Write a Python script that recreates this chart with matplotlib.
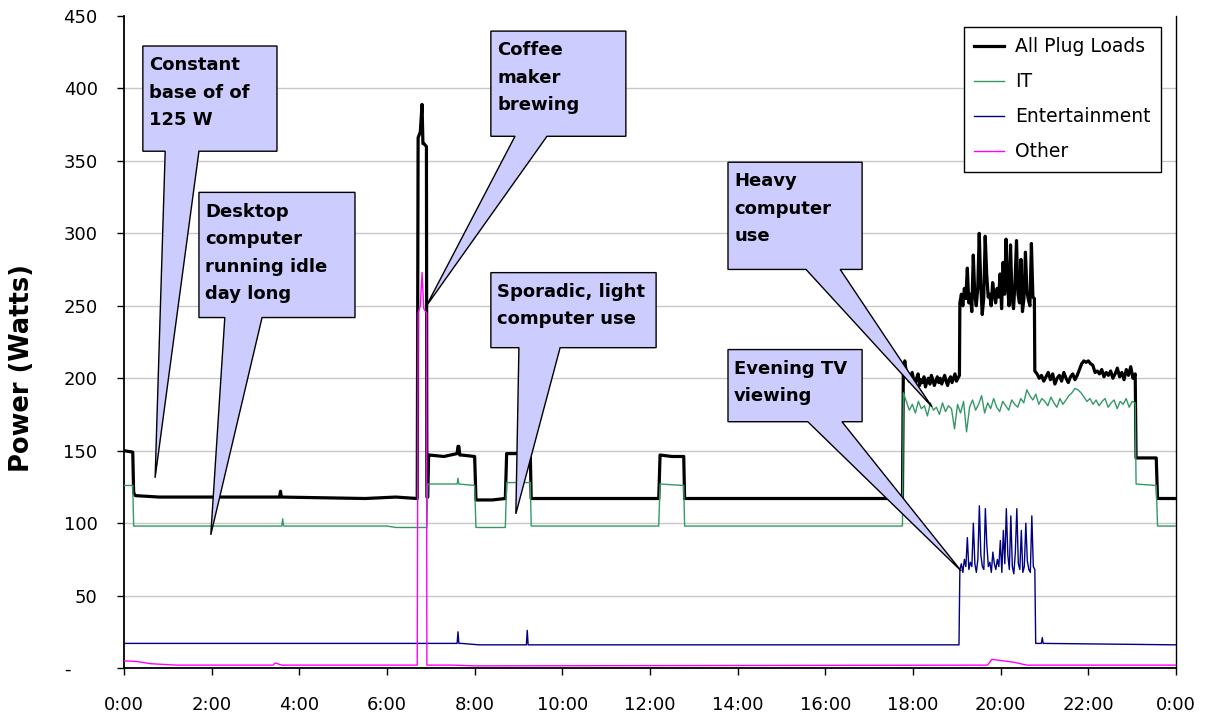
import numpy as np
import matplotlib
matplotlib.use("Agg")
import matplotlib.pyplot as plt
from matplotlib.patches import Polygon
from matplotlib.transforms import ScaledTranslation

plt.rcParams['font.family'] = ['DejaVu Sans']

# ---- daily plug load data (hours since midnight, watts) ----
# All plug loads, 0:00 - 17:45
all_hours = [
    0.00, 0.20, 0.22, 0.26, 0.80, 1.60, 2.40, 3.10, 3.55, 3.57,
    3.59, 5.50, 6.20, 6.69, 6.71, 6.76, 6.80, 6.82, 6.84, 6.90,
    6.91, 6.93, 6.95, 6.97, 7.30, 7.60, 7.62, 7.64, 7.66, 7.70,
    8.00, 8.03, 8.40, 8.70, 8.73, 9.00, 9.27, 9.29, 10.5, 12.20,
    12.23, 12.50, 12.77, 12.79, 14.00, 15.50, 17.00, 17.76,
]
all_watts = [
    150, 149, 121, 119, 118, 118, 118, 118, 118, 122,
    118, 117, 118, 117, 366, 370, 389, 362, 362, 360,
    118, 118, 147, 147, 146, 148, 153, 153, 147, 147,
    146, 116, 116, 117, 148, 148, 147, 117, 117, 117,
    147, 146, 146, 117, 117, 117, 117, 117,
]
# evening: computer on (17:47 - 19:04), computer + TV (19:04 - 20:47), computer (20:47 - 23:04)
all_eve_a = [205, 212, 204, 203, 198, 201, 204, 199, 196, 200, 203, 195, 199,
             197, 201, 194, 198, 200, 196, 202, 199, 195, 198, 201, 197, 200,
             196, 199, 202, 198, 195, 199, 201, 197, 200, 203, 198, 200, 202]
all_eve_b = [252, 258, 250, 262, 255, 276, 252, 258, 246, 285, 258, 250, 262,
             300, 265, 244, 255, 298, 272, 256, 258, 250, 266, 258, 252, 262,
             256, 272, 248, 280, 258, 296, 264, 250, 292, 256, 248, 266, 295,
             258, 252, 282, 246, 255, 287, 260, 254, 250, 293, 256, 255]
all_eve_c = [205, 203, 200, 202, 198, 201, 204, 199, 203, 196, 200, 202, 198,
             204, 200, 197, 201, 203, 199, 202, 206, 210, 212, 211, 212, 210,
             209, 204, 205, 203, 206, 201, 204, 202, 205, 200, 203, 207, 201,
             204, 199, 206, 202, 208, 200, 203]
all_tail_hours = [23.09, 23.55, 23.58, 24.00]
all_tail_watts = [145, 145, 117, 117]

# IT
it_hours = [0.00, 0.20, 0.22, 3.60, 3.62, 3.64, 6.00, 6.20, 6.91, 6.93,
            7.30, 7.60, 7.62, 7.64, 8.00, 8.03, 8.70, 8.73, 9.27, 9.29,
            12.20, 12.23, 12.77, 12.79, 17.76]
it_watts = [126, 126, 98, 98, 103, 98, 98, 97, 97, 127,
            127, 127, 131, 127, 126, 97, 97, 128, 128, 98,
            98, 127, 126, 98, 98]
it_eve = [190, 184, 178, 182, 176, 184, 179, 181, 174, 183, 178, 180, 175,
          183, 177, 181, 179, 165, 182, 176, 184, 163, 180, 185, 178, 182,
          188, 176, 183, 179, 186, 180, 177, 184, 181, 178, 185, 182, 180,
          186, 183, 192, 188, 185, 189, 182, 186, 184, 181, 187, 183, 180,
          186, 182, 185, 188, 190, 193, 192, 190, 187, 184, 186, 182, 185,
          181, 184, 186, 180, 183, 185, 179, 184, 182, 186, 180, 184, 183]
it_tail_hours = [23.09, 23.55, 23.58, 24.00]
it_tail_watts = [127, 126, 98, 98]

# Entertainment
ent_hours = [0.00, 4.00, 7.60, 7.62, 7.64, 7.70, 8.10, 9.18, 9.20, 9.22, 19.05]
ent_watts = [17, 17, 17, 25, 17, 17, 16, 16, 26, 16, 16]
ent_eve = [68, 72, 66, 75, 70, 90, 68, 73, 70, 100, 72, 66, 75, 112, 78, 70,
           68, 110, 85, 70, 73, 66, 80, 72, 68, 75, 70, 88, 66, 95, 72, 110,
           78, 68, 105, 70, 65, 80, 110, 72, 68, 95, 66, 70, 100, 74, 68, 66,
           105, 70, 68]
ent_tail_hours = [20.80, 20.93, 20.95, 20.97, 24.00]
ent_tail_watts = [17, 17, 21, 17, 16]

# Other
oth_hours = [0.00, 0.30, 0.60, 1.20, 3.40, 3.45, 3.60, 6.69, 6.71, 6.76,
             6.80, 6.84, 6.90, 6.91, 7.50, 8.00, 19.70, 19.80, 20.30, 20.60,
             24.00]
oth_watts = [5, 4.5, 3, 2, 2, 3.5, 2, 2, 245, 250,
             273, 248, 245, 2, 2, 1.5, 2, 6, 4, 2,
             2]

series_names = ['All Plug Loads', 'IT', 'Entertainment', 'Other']
series_colors = ['black', '#339966', '#000080', '#FF00FF']

hour_ticks = list(range(0, 25, 2))
hour_labels = ['0:00', '2:00', '4:00', '6:00', '8:00', '10:00', '12:00',
               '14:00', '16:00', '18:00', '20:00', '22:00', '0:00']
watt_ticks = list(range(0, 451, 50))
watt_labels = ['-', '50', '100', '150', '200', '250', '300', '350', '400', '450']

# ---- assemble the full-day traces ----
t_all = np.concatenate([all_hours,
                        np.linspace(17.78, 19.06, len(all_eve_a)),
                        np.linspace(19.07, 20.77, len(all_eve_b)),
                        np.linspace(20.78, 23.07, len(all_eve_c)),
                        all_tail_hours])
w_all = np.concatenate([all_watts, all_eve_a, all_eve_b, all_eve_c, all_tail_watts])

t_it = np.concatenate([it_hours, np.linspace(17.78, 23.07, len(it_eve)), it_tail_hours])
w_it = np.concatenate([it_watts, it_eve, it_tail_watts])

t_ent = np.concatenate([ent_hours, np.linspace(19.07, 20.78, len(ent_eve)), ent_tail_hours])
w_ent = np.concatenate([ent_watts, ent_eve, ent_tail_watts])

fig = plt.figure(figsize=(12.05, 7.19), dpi=100)
ax = fig.add_axes([0.1029, 0.0709, 0.8730, 0.9068])

ax.plot(t_all, w_all, color=series_colors[0], lw=2.3, label=series_names[0], zorder=3)
ax.plot(t_it, w_it, color=series_colors[1], lw=1.0, label=series_names[1], zorder=4)
ax.plot(t_ent, w_ent, color=series_colors[2], lw=1.0, label=series_names[2], zorder=4)
ax.plot(oth_hours, oth_watts, color=series_colors[3], lw=1.0, label=series_names[3], zorder=4)

ax.set_xlim(0, 24)
ax.set_ylim(0, 450)
ax.set_xticks(hour_ticks)
ax.set_xticklabels(hour_labels, fontsize=13)
ax.set_yticks(watt_ticks)
ax.set_yticklabels(watt_labels, fontsize=13)
ax.tick_params(axis='both', direction='out', length=5, width=1)
ax.tick_params(axis='x', pad=15)
ax.tick_params(axis='y', pad=14)
# accounting-style dash for zero sits further left
zero_lbl = ax.get_yticklabels()[0]
zero_lbl.set_transform(zero_lbl.get_transform() + ScaledTranslation(-27 / 100, 0, fig.dpi_scale_trans))

ax.yaxis.grid(True, color='#c8c8c8', lw=1)
ax.yaxis.get_gridlines()[-1].set_visible(False)
ax.set_axisbelow(True)
ax.spines['top'].set_visible(False)
ax.spines['left'].set_linewidth(1.3)
ax.spines['bottom'].set_linewidth(1.3)
ax.spines['right'].set_linewidth(1.0)
ax.set_ylabel('Power (Watts)', fontsize=18.5, fontweight='bold')
ax.yaxis.set_label_coords(-0.085, 0.46)

leg = ax.legend(loc='upper right', bbox_to_anchor=(0.9857, 0.983), fontsize=13.5,
                frameon=True, fancybox=False, edgecolor='black', framealpha=1,
                handlelength=1.6, handletextpad=0.6, labelspacing=0.85,
                borderpad=0.55, borderaxespad=0)
leg.get_frame().set_linewidth(1.0)

# callout shapes: box (left, right, top, bottom), wedge base on box bottom, wedge tip
callouts = [
    ("Constant\nbase of of\n125 W", (0.43, 3.49, 429.3, 356.7), (0.94, 1.71), (0.71, 131.3)),
    ("Desktop\ncomputer\nrunning idle\nday long", (1.71, 5.27, 328.3, 241.9), (2.30, 3.15), (1.98, 91.9)),
    ("Coffee\nmaker\nbrewing", (8.37, 11.45, 439.6, 367.0), (8.92, 9.65), (6.89, 249.5)),
    ("Sporadic, light\ncomputer use", (8.37, 12.14, 272.9, 221.1), (9.01, 9.95), (8.94, 106.4)),
    ("Heavy\ncomputer\nuse", (13.78, 16.84, 349.1, 275.1), (15.56, 16.34), (18.43, 180.4)),
    ("Evening TV\nviewing", (13.78, 16.84, 219.8, 170.0), (15.60, 16.38), (19.10, 67.0)),
]
for text, (x0, x1, y1, y0), (bl, br), tip in callouts:
    verts = [(x0, y1), (x1, y1), (x1, y0), (br, y0), tip, (bl, y0), (x0, y0)]
    ax.add_patch(Polygon(verts, closed=True, facecolor='#CCCCFF', edgecolor='black',
                         lw=1.0, zorder=6, clip_on=False))
    ax.text(x0 + 0.14, y1 - 7.0, text, fontsize=13, fontweight='bold', va='top',
            ha='left', linespacing=1.68, zorder=7)

fig.savefig('out.png', dpi=100)
